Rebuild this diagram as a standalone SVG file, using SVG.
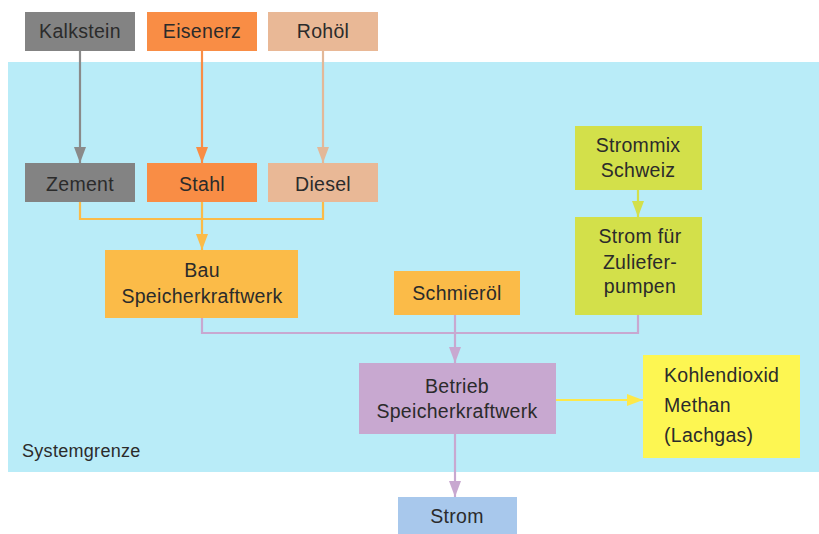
<svg xmlns="http://www.w3.org/2000/svg" width="819" height="534" viewBox="0 0 819 534">
<defs>
<style>
.t{font-family:"Liberation Sans",Arial,sans-serif;font-size:19.5px;fill:#2b2b2b;text-anchor:middle;letter-spacing:0.3px}
.l{fill:none;stroke-width:2.2}
</style>
<marker id="mg" markerUnits="userSpaceOnUse" markerWidth="16" markerHeight="12" refX="16" refY="6" orient="auto" viewBox="0 0 16 12"><path d="M0,0L16,6L0,12Z" fill="#8a8a8a"/></marker>
<marker id="mo" markerUnits="userSpaceOnUse" markerWidth="16" markerHeight="12" refX="16" refY="6" orient="auto" viewBox="0 0 16 12"><path d="M0,0L16,6L0,12Z" fill="#f98d45"/></marker>
<marker id="mp" markerUnits="userSpaceOnUse" markerWidth="16" markerHeight="12" refX="16" refY="6" orient="auto" viewBox="0 0 16 12"><path d="M0,0L16,6L0,12Z" fill="#e3b898"/></marker>
<marker id="my" markerUnits="userSpaceOnUse" markerWidth="16" markerHeight="12" refX="16" refY="6" orient="auto" viewBox="0 0 16 12"><path d="M0,0L16,6L0,12Z" fill="#fbbb48"/></marker>
<marker id="mv" markerUnits="userSpaceOnUse" markerWidth="16" markerHeight="12" refX="16" refY="6" orient="auto" viewBox="0 0 16 12"><path d="M0,0L16,6L0,12Z" fill="#c8a8d0"/></marker>
<marker id="mgr" markerUnits="userSpaceOnUse" markerWidth="16" markerHeight="12" refX="16" refY="6" orient="auto" viewBox="0 0 16 12"><path d="M0,0L16,6L0,12Z" fill="#d3e04a"/></marker>
<marker id="mye" markerUnits="userSpaceOnUse" markerWidth="16" markerHeight="12" refX="16" refY="6" orient="auto" viewBox="0 0 16 12"><path d="M0,0L16,6L0,12Z" fill="#fde84a"/></marker>
</defs>
<rect width="819" height="534" fill="#ffffff"/>
<rect x="8" y="62" width="811" height="410" fill="#b9ecf8"/>
<text x="22" y="457" class="t" style="text-anchor:start;font-size:18px">Systemgrenze</text>

<g id="connectors">
<path class="l" d="M80,51V163" stroke="#8a8a8a" marker-end="url(#mg)"/>
<path class="l" d="M202,51V163" stroke="#f98d45" marker-end="url(#mo)"/>
<path class="l" d="M323,51V163" stroke="#e3b898" marker-end="url(#mp)"/>
<path class="l" d="M80,202V219H323V202" stroke="#fbbb48"/>
<path class="l" d="M202,202V250" stroke="#fbbb48" marker-end="url(#my)"/>
<path class="l" d="M202,318V333H638V315" stroke="#c8a8d0"/>
<path class="l" d="M455,315V363" stroke="#c8a8d0" marker-end="url(#mv)"/>
<path class="l" d="M638,190V217" stroke="#d3e04a" marker-end="url(#mgr)"/>
<path class="l" d="M556,400H643" stroke="#fde84a" marker-end="url(#mye)"/>
<path class="l" d="M455,433V497" stroke="#c8a8d0" marker-end="url(#mv)"/>
</g>

<g id="kalkstein"><rect x="25" y="12" width="110" height="39" fill="#838383"/><text x="80" y="38" class="t">Kalkstein</text></g>
<g id="eisenerz"><rect x="147" y="12" width="110" height="39" fill="#f98d45"/><text x="202" y="38" class="t">Eisenerz</text></g>
<g id="rohoel"><rect x="268" y="12" width="110" height="39" fill="#e9b896"/><text x="323" y="38" class="t">Rohöl</text></g>
<g id="zement"><rect x="25" y="163" width="110" height="39" fill="#838383"/><text x="80" y="191" class="t">Zement</text></g>
<g id="stahl"><rect x="147" y="163" width="110" height="39" fill="#f98d45"/><text x="202" y="191" class="t">Stahl</text></g>
<g id="diesel"><rect x="268" y="163" width="110" height="39" fill="#e9b896"/><text x="323" y="191" class="t">Diesel</text></g>
<g id="bau"><rect x="105" y="250" width="193" height="68" fill="#fbbb48"/><text x="202" y="277" class="t">Bau</text><text x="202" y="303" class="t">Speicherkraftwerk</text></g>
<g id="schmieroel"><rect x="394" y="271" width="126" height="44" fill="#fbbb48"/><text x="457" y="300" class="t">Schmieröl</text></g>
<g id="strommix"><rect x="575" y="126" width="127" height="64" fill="#d3e04a"/><text x="638" y="152" class="t">Strommix</text><text x="638" y="177" class="t">Schweiz</text></g>
<g id="zuliefer"><rect x="575" y="217" width="127" height="98" fill="#d3e04a"/><text x="640" y="243" class="t">Strom für</text><text x="640" y="269" class="t">Zuliefer-</text><text x="640" y="293" class="t">pumpen</text></g>
<g id="betrieb"><rect x="359" y="363" width="197" height="71" fill="#c8a8d0"/><text x="457" y="393" class="t">Betrieb</text><text x="457" y="418" class="t">Speicherkraftwerk</text></g>
<g id="emissionen"><rect x="643" y="355" width="157" height="103" fill="#fdf652"/><text x="664" y="382" class="t" style="text-anchor:start">Kohlendioxid</text><text x="664" y="412" class="t" style="text-anchor:start">Methan</text><text x="664" y="442" class="t" style="text-anchor:start">(Lachgas)</text></g>
<g id="strom"><rect x="398" y="497" width="119" height="37" fill="#a8c8ec"/><text x="457" y="523" class="t">Strom</text></g>
</svg>
